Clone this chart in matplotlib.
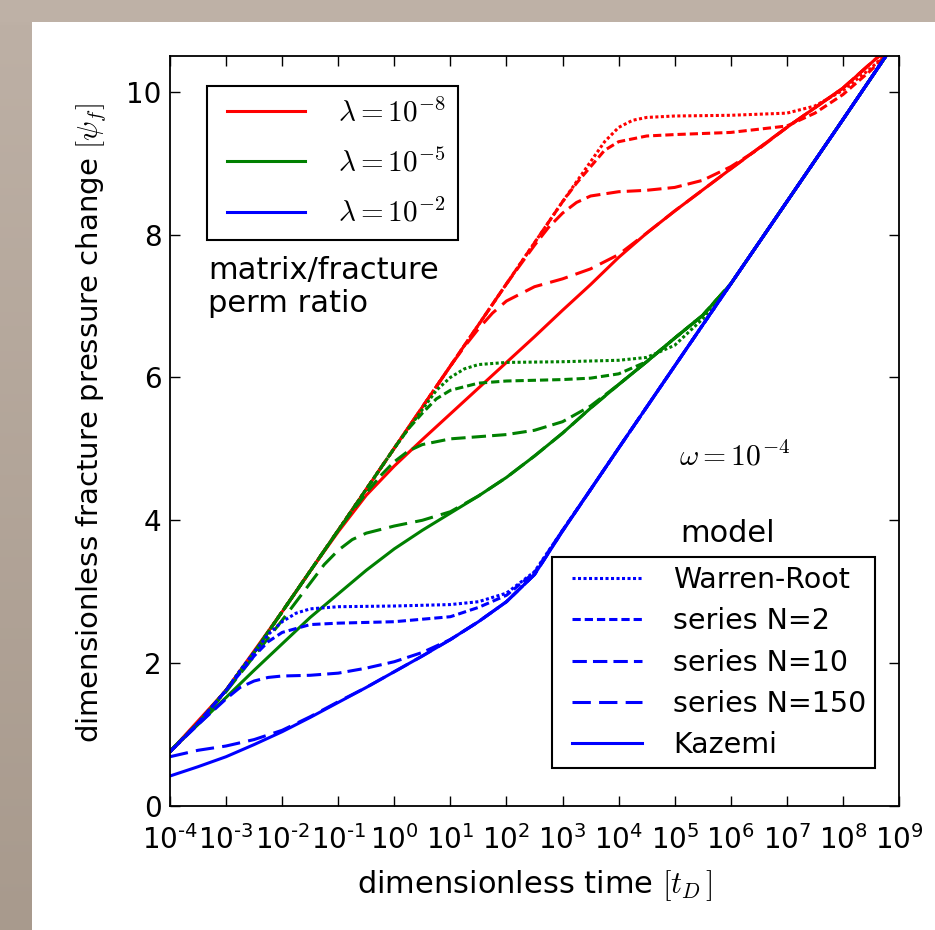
"""Fracture pressure change vs dimensionless time for three perm ratios and five matrix models."""
import numpy as np
import matplotlib
matplotlib.use("Agg")
import matplotlib.pyplot as plt
from matplotlib.colors import LinearSegmentedColormap
from matplotlib.legend_handler import HandlerLine2D
from matplotlib.lines import Line2D
from matplotlib.patches import Rectangle
from matplotlib.ticker import FixedLocator, FixedFormatter, NullLocator

# ---- data: (log10 t_D, pressure change) ----------------------------------------------
# lambda = 1e-8 (red)
RED_WR = [(-4, 0.76), (-3.5, 1.16), (-3, 1.62), (-2.5, 2.15), (-2, 2.72), (-1, 3.86), (0, 5.01),
          (1, 6.16), (2, 7.31), (3, 8.46), (3.5, 9.02), (3.75, 9.3), (4, 9.5), (4.25, 9.6),
          (4.5, 9.64), (5, 9.66), (6, 9.67), (7, 9.7), (7.5, 9.8), (8, 10.02), (8.5, 10.33), (9, 10.7)]
RED_S2 = [(-4, 0.76), (-3.5, 1.16), (-3, 1.62), (-2.5, 2.15), (-2, 2.72), (-1, 3.86), (0, 5.01),
          (1, 6.16), (2, 7.31), (3, 8.46), (3.25, 8.72), (3.5, 8.95), (3.75, 9.18), (4, 9.3),
          (4.5, 9.38), (5, 9.4), (6, 9.43), (7, 9.52), (7.5, 9.7), (8, 9.96), (8.5, 10.3), (9, 10.7)]
RED_S10 = [(-4, 0.76), (-3.5, 1.16), (-3, 1.62), (-2.5, 2.15), (-2, 2.72), (-1, 3.86), (0, 5.01),
           (1, 6.16), (2, 7.31), (2.5, 7.85), (2.75, 8.1), (3, 8.3), (3.25, 8.45), (3.5, 8.54),
           (4, 8.6), (4.5, 8.62), (5, 8.66), (5.5, 8.76), (6, 8.95), (6.5, 9.2), (7, 9.5),
           (8, 10.05), (9, 10.75)]
RED_S150 = [(-4, 0.76), (-3.5, 1.16), (-3, 1.62), (-2.5, 2.15), (-2, 2.72), (-1, 3.86), (0, 5.01),
            (1, 6.16), (1.25, 6.43), (1.5, 6.68), (1.75, 6.9), (2, 7.07), (2.5, 7.27), (3, 7.38),
            (3.5, 7.52), (4, 7.72), (4.5, 8.02), (5, 8.33), (6, 8.92), (7, 9.5), (8, 10.05), (9, 10.75)]
RED_KZ = [(-4, 0.76), (-3, 1.62), (-2, 2.72), (-1.5, 3.29), (-1, 3.84), (-0.5, 4.35), (0, 4.76),
          (0.5, 5.13), (1, 5.49), (1.5, 5.85), (2, 6.21), (2.5, 6.57), (3, 6.94), (3.5, 7.3),
          (4, 7.68), (4.5, 8.02), (5, 8.33), (6, 8.92), (7, 9.5), (8, 10.05), (9, 10.75)]

# lambda = 1e-5 (green)
GREEN_WR = [(-4, 0.76), (-3.5, 1.16), (-3, 1.62), (-2.5, 2.15), (-2, 2.72), (-1, 3.86), (0, 5.01),
            (0.5, 5.55), (0.75, 5.82), (1, 6.0), (1.25, 6.12), (1.5, 6.18), (2, 6.21), (3, 6.22),
            (4, 6.24), (4.5, 6.28), (5, 6.45), (5.5, 6.82), (6, 7.31), (7, 8.46), (8, 9.61), (9, 10.77)]
GREEN_S2 = [(-4, 0.76), (-3.5, 1.16), (-3, 1.62), (-2.5, 2.15), (-2, 2.72), (-1, 3.86), (0, 5.01),
            (0.25, 5.28), (0.5, 5.5), (0.75, 5.7), (1, 5.82), (1.5, 5.92), (2, 5.95), (3, 5.97),
            (3.5, 5.99), (4, 6.05), (4.5, 6.22), (5, 6.55), (5.5, 6.87), (6, 7.31), (7, 8.46),
            (8, 9.61), (9, 10.77)]
GREEN_S10 = [(-4, 0.76), (-3.5, 1.16), (-3, 1.62), (-2.5, 2.15), (-2, 2.72), (-1, 3.86),
             (-0.75, 4.13), (-0.5, 4.38), (-0.25, 4.62), (0, 4.82), (0.25, 4.97), (0.5, 5.06),
             (1, 5.14), (1.5, 5.17), (2, 5.2), (2.5, 5.26), (3, 5.38), (3.5, 5.6), (4, 5.9),
             (4.5, 6.22), (5, 6.55), (5.5, 6.87), (6, 7.31), (7, 8.46), (8, 9.61), (9, 10.77)]
GREEN_S150 = [(-4, 0.77), (-3.5, 1.16), (-3, 1.6), (-2.5, 2.1), (-2, 2.6), (-1.5, 3.12),
              (-1.25, 3.38), (-1, 3.58), (-0.75, 3.73), (-0.5, 3.82), (0, 3.92), (0.5, 4.0),
              (1, 4.12), (1.5, 4.34), (2, 4.6), (2.5, 4.9), (3, 5.22), (3.5, 5.57), (4, 5.9),
              (4.5, 6.22), (5, 6.55), (5.5, 6.87), (6, 7.31), (7, 8.46), (8, 9.61), (9, 10.77)]
GREEN_KZ = [(-4, 0.77), (-3.5, 1.14), (-3, 1.52), (-2.5, 1.9), (-2, 2.27), (-1.5, 2.64),
            (-1, 2.97), (-0.5, 3.3), (0, 3.6), (0.5, 3.86), (1, 4.1), (1.5, 4.34), (2, 4.6),
            (2.5, 4.9), (3, 5.22), (3.5, 5.57), (4, 5.9), (4.5, 6.22), (5, 6.55), (5.5, 6.87),
            (6, 7.31), (7, 8.46), (8, 9.61), (9, 10.77)]

# lambda = 1e-2 (blue)
BLUE_WR = [(-4, 0.76), (-3.5, 1.16), (-3, 1.62), (-2.75, 1.9), (-2.5, 2.15), (-2.25, 2.4),
           (-2, 2.58), (-1.75, 2.7), (-1.5, 2.76), (-1, 2.79), (0, 2.8), (1, 2.82), (1.5, 2.86),
           (2, 2.98), (2.5, 3.28), (3, 3.86), (3.5, 4.43), (4, 5.01), (5, 6.16), (6, 7.31),
           (7, 8.46), (8, 9.61), (9, 10.77)]
BLUE_S2 = [(-4, 0.76), (-3.5, 1.16), (-3, 1.62), (-2.5, 2.1), (-2.25, 2.3), (-2, 2.43),
           (-1.5, 2.54), (-1, 2.56), (0, 2.58), (1, 2.65), (1.5, 2.78), (2, 2.95), (2.5, 3.27),
           (3, 3.86), (3.5, 4.43), (4, 5.01), (5, 6.16), (6, 7.31), (7, 8.46), (8, 9.61), (9, 10.77)]
BLUE_S10 = [(-4, 0.76), (-3.5, 1.14), (-3, 1.5), (-2.75, 1.66), (-2.5, 1.75), (-2.25, 1.8),
            (-2, 1.82), (-1.5, 1.83), (-1, 1.86), (-0.5, 1.93), (0, 2.02), (0.5, 2.15), (1, 2.33),
            (1.5, 2.58), (2, 2.86), (2.5, 3.24), (3, 3.85), (3.5, 4.43), (4, 5.01), (5, 6.16),
            (6, 7.31), (7, 8.46), (8, 9.61), (9, 10.77)]
BLUE_S150 = [(-4, 0.69), (-3.5, 0.78), (-3, 0.84), (-2.5, 0.93), (-2, 1.06), (-1.5, 1.25),
             (-1, 1.46), (-0.5, 1.66), (0, 1.88), (0.5, 2.1), (1, 2.33), (1.5, 2.58), (2, 2.86),
             (2.5, 3.24), (3, 3.85), (3.5, 4.43), (4, 5.01), (5, 6.16), (6, 7.31), (7, 8.46),
             (8, 9.61), (9, 10.77)]
BLUE_KZ = [(-4, 0.42), (-3.5, 0.55), (-3, 0.69), (-2.5, 0.86), (-2, 1.04), (-1.5, 1.24),
           (-1, 1.45), (-0.5, 1.66), (0, 1.88), (0.5, 2.1), (1, 2.33), (1.5, 2.58), (2, 2.86),
           (2.5, 3.24), (3, 3.85), (3.5, 4.43), (4, 5.01), (5, 6.16), (6, 7.31), (7, 8.46),
           (8, 9.61), (9, 10.77)]

LAMBDA_LABELS = [r"$\lambda=10^{-8}$", r"$\lambda=10^{-5}$", r"$\lambda=10^{-2}$"]
MODEL_LABELS = ["Warren-Root", "series N=2", "series N=10", "series N=150", "Kazemi"]
X_EXPONENTS = list(range(-4, 10))
Y_TICKS = [0, 2, 4, 6, 8, 10]

# ---- styling -------------------------------------------------------------------------
COLORS = ["#ff0000", "#008000", "#0000ff"]
DASHES = [(0, (1, 0.8)), (0, (2.7, 1.3)), (0, (4.7, 2.0)), (0, (6.0, 2.7)), "-"]
LW = 2.2

plt.rcParams["font.family"] = ["DejaVu Sans"]
plt.rcParams["mathtext.fontset"] = "dejavusans"

fig = plt.figure(figsize=(9.35, 9.3), dpi=100)
fig.patch.set_facecolor("white")

# slide-like backdrop: band at top, shaded strip at left
fig.add_artist(Rectangle((0, 1 - 22 / 930), 1, 22 / 930, transform=fig.transFigure,
                         facecolor="#beb1a6", edgecolor="none", zorder=-10))
strip = fig.add_axes([0, 0, 31 / 935, 1 - 22 / 930])
strip.imshow(np.linspace(0, 1, 256)[:, None], aspect="auto", extent=(0, 1, 0, 1),
             cmap=LinearSegmentedColormap.from_list("bg", ["#bdb0a5", "#a89a8d"]))
strip.axis("off")

ax = fig.add_axes([170 / 935, 1 - 806 / 930, 729 / 935, 750 / 930])

groups = [
    (COLORS[0], [RED_WR, RED_S2, RED_S10, RED_S150, RED_KZ]),
    (COLORS[1], [GREEN_WR, GREEN_S2, GREEN_S10, GREEN_S150, GREEN_KZ]),
    (COLORS[2], [BLUE_WR, BLUE_S2, BLUE_S10, BLUE_S150, BLUE_KZ]),
]
for color, curves in groups:
    for curve, ls in zip(curves, DASHES):
        lt, p = np.array(curve, dtype=float).T
        ax.plot(10.0 ** lt, p, color=color, ls=ls, lw=LW, dash_capstyle="butt")

ax.set_xscale("log")
ax.set_xlim(1e-4, 1e9)
ax.set_ylim(0, 10.5)
ax.xaxis.set_major_locator(FixedLocator([10.0 ** k for k in X_EXPONENTS]))
ax.xaxis.set_minor_locator(NullLocator())
xlabels = []
for k in X_EXPONENTS:
    sup = r"\text{-}" + str(-k) if k < 0 else str(k)
    xlabels.append("$10^{" + sup + "}$")
ax.xaxis.set_major_formatter(FixedFormatter(xlabels))
ax.set_yticks(Y_TICKS)
ax.tick_params(which="major", direction="in", length=7, width=1, top=True, right=True,
               labelsize=20)
ax.tick_params(axis="y", pad=6)
ax.tick_params(axis="x", pad=14)
for s in ax.spines.values():
    s.set_linewidth(1.3)

ax.set_xlabel(r"dimensionless time $[t_D\,]$", fontsize=22, math_fontfamily="cm")
ax.xaxis.set_label_coords(0.5, -0.083)
ax.set_ylabel(r"dimensionless fracture pressure change $[\psi_f]$", fontsize=21,
              math_fontfamily="cm")
ax.yaxis.set_label_coords(-0.084, 0.51)

# legend for perm ratio
h1 = [Line2D([], [], color=c, lw=LW) for c in COLORS]
leg1 = ax.legend(h1, LAMBDA_LABELS, loc="upper left", bbox_to_anchor=(0.0508, 0.96),
                 borderaxespad=0, fontsize=21, handlelength=2.95, handletextpad=1.13,
                 labelspacing=0.72, borderpad=0.42, fancybox=False, edgecolor="k", framealpha=1,
                 handler_map={Line2D: HandlerLine2D(xpad=0.25)})
leg1.get_frame().set_linewidth(1.5)
for t in leg1.get_texts():
    t.set_math_fontfamily("cm")
ax.add_artist(leg1)

# legend for model type
h2 = [Line2D([], [], color=COLORS[2], ls=ls, lw=LW, dash_capstyle="butt") for ls in DASHES]
leg2 = ax.legend(h2, MODEL_LABELS, loc="lower right", bbox_to_anchor=(0.967, 0.0507),
                 borderaxespad=0, fontsize=20.5, handlelength=2.85, handletextpad=1.1,
                 labelspacing=0.47, borderpad=0.3, fancybox=False, edgecolor="k", framealpha=1,
                 handler_map={Line2D: HandlerLine2D(xpad=0.4)})
leg2.get_frame().set_linewidth(1.5)

ax.text(0.052, 0.733, "matrix/fracture\nperm ratio", transform=ax.transAxes, fontsize=22,
        ha="left", va="top", linespacing=1.18)
ax.text(0.765, 0.364, "model", transform=ax.transAxes, fontsize=22, ha="center", va="center")
ax.text(0.775, 0.465, r"$\omega=10^{-4}$", transform=ax.transAxes, fontsize=21.4,
        ha="center", va="center", math_fontfamily="cm")

fig.savefig("out.png", dpi=100)
